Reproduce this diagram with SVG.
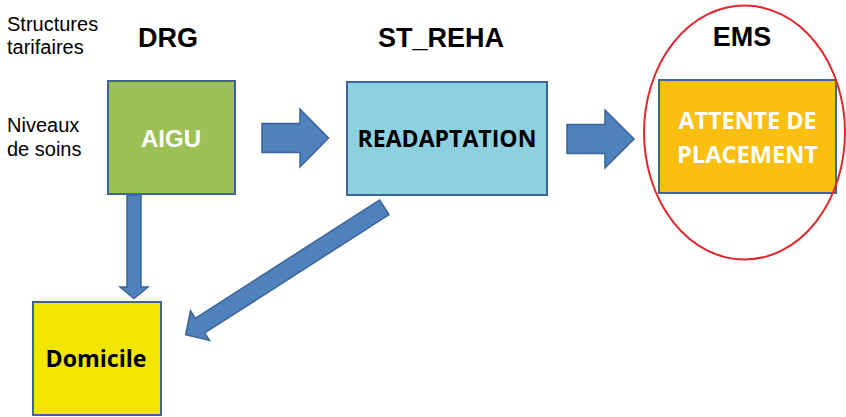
<svg xmlns="http://www.w3.org/2000/svg" width="846" height="417" viewBox="0 0 846 417">
<style>
.lbl{font-family:"Liberation Sans",Arial,sans-serif;font-size:20px;fill:#000}
.hdr{font-family:"Liberation Sans",Arial,sans-serif;font-size:27px;font-weight:bold;fill:#000;text-anchor:middle}
.box{stroke:#3F649A;stroke-width:2}
.arr{fill:#4F81BD;stroke:#3A6496;stroke-width:1.5;stroke-linejoin:miter}
.cal{font-family:"Open Sans","Liberation Sans",sans-serif;font-weight:bold;text-anchor:middle}
</style>
<rect width="846" height="417" fill="#fff"/>
<g id="labels">
<text class="lbl" x="7" y="31">Structures</text>
<text class="lbl" x="7" y="54">tarifaires</text>
<text class="lbl" x="7" y="132">Niveaux</text>
<text class="lbl" x="7" y="156">de soins</text>
<text class="hdr" x="168" y="47">DRG</text>
<text class="hdr" x="441" y="47">ST_REHA</text>
<text class="hdr" x="742" y="46">EMS</text>
</g>
<g id="connectors">
<polygon class="arr" points="262,123.5 300,123.5 300,109 328.5,138 300,167 300,152.5 262,152.5"/>
<polygon class="arr" points="567,124.5 605,124.5 605,110 634,139 605,168 605,153.5 567,153.5"/>
<polygon class="arr" points="127,195 141,195 141,287 148,287 134,298.5 120,287 127,287"/>
<polygon class="arr" transform="translate(384.3,207.3) rotate(147.3)" points="0,-8.7 219,-8.7 219,-17.6 236,0 219,17.6 219,8.7 0,8.7"/>
</g>
<g id="aigu">
<rect class="box" x="108" y="81" width="127" height="113" fill="#9BC155"/>
<text x="171" y="147" font-family="Liberation Sans, Arial, sans-serif" font-size="24" font-weight="bold" fill="#fff" text-anchor="middle">AIGU</text>
</g>
<g id="readaptation">
<rect class="box" x="347" y="82" width="200" height="113" fill="#8DD0E0"/>
<text class="cal" x="447" y="147" font-size="23" fill="#000" textLength="179" lengthAdjust="spacingAndGlyphs">READAPTATION</text>
</g>
<g id="ems">
<rect class="box" x="659" y="80" width="177" height="113" fill="#FABF0F"/>
<text class="cal" x="747.5" y="129" font-size="22.5" fill="#fff" textLength="138" lengthAdjust="spacingAndGlyphs">ATTENTE DE</text>
<text class="cal" x="747.5" y="163" font-size="22.5" fill="#fff" textLength="141" lengthAdjust="spacingAndGlyphs">PLACEMENT</text>
<ellipse cx="744.5" cy="132.5" rx="100.5" ry="127" fill="none" stroke="#E3262A" stroke-width="2"/>
</g>
<g id="domicile">
<rect class="box" x="33" y="302" width="128" height="113" fill="#F2E500"/>
<text class="cal" x="96" y="367" font-size="24" fill="#000" textLength="101" lengthAdjust="spacingAndGlyphs">Domicile</text>
</g>
</svg>
